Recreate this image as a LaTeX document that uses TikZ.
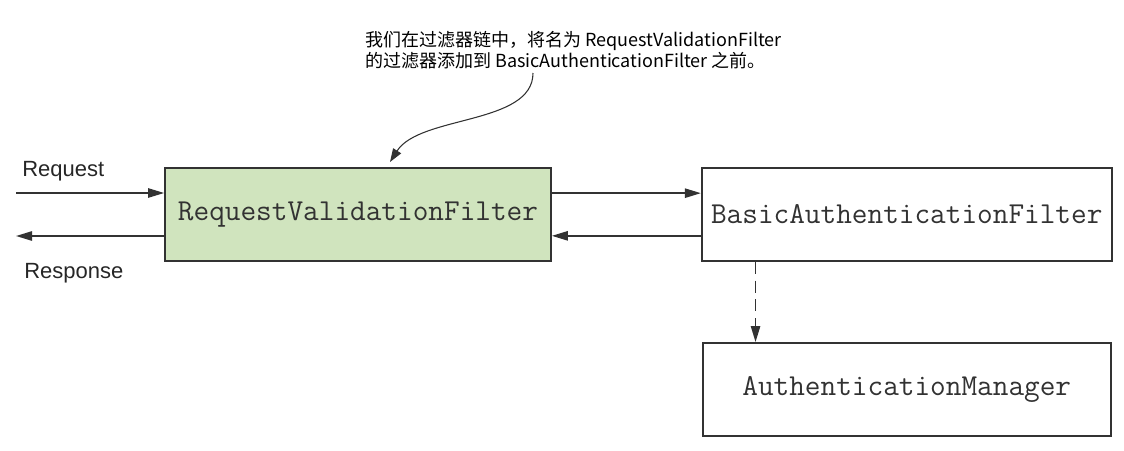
\documentclass[tikz,border=0pt]{standalone}
\usepackage{fontspec}
\setmainfont{Liberation Sans}
\setsansfont{Liberation Sans}
\newfontfamily\cjk{Noto Sans CJK SC}
\usepackage{tikz}
\usetikzlibrary{arrows.meta,positioning}
\definecolor{filtergreen}{RGB}{208,228,190}
\definecolor{linegray}{RGB}{50,50,50}

\begin{document}
\begin{tikzpicture}[
    x=0.75pt, y=-0.75pt,
    node distance=60pt and 111.75pt,
    block/.style={rectangle, draw=linegray, line width=1.3pt,
                minimum height=70pt, align=center, text=linegray,
                font=\ttfamily\fontsize{22.8}{24}\selectfont},
    tag/.style={inner sep=0pt, text=black!85,
                font=\sffamily\fontsize{16.5}{19}\selectfont},
    note/.style={inner sep=0pt, align=left,
                font=\cjk\fontsize{13.5}{16}\selectfont},
    flow/.style={draw=linegray, line width=1.2pt, -{Triangle[length=12pt,width=7pt]}},
    >=Latex
]
\useasboundingbox (0,0) rectangle (1124,450);

\node[block, fill=filtergreen, minimum width=289.5pt] (rvf) at (358,214.5) {RequestValidationFilter};
\node[block, right=of rvf, minimum width=307.5pt] (basic) {BasicAuthenticationFilter};
\node[block, below=of basic, minimum width=306pt] (manager) {AuthenticationManager};

% Request / Response
\coordinate (reqin) at (16,193);
\coordinate (respout) at (16,236);
\draw[flow] (reqin) -- (reqin -| rvf.west);
\draw[flow] (respout -| rvf.west) -- (respout);
\node[tag, anchor=base west] (reqlabel) at (22,176.5) {Request};
\node[tag, anchor=base west] (resplabel) at (24,278.5) {Response};

\draw[flow] ([yshift=16pt]rvf.east) -- ([yshift=16pt]basic.west);
\draw[flow] ([yshift=-16pt]basic.west) -- ([yshift=-16pt]rvf.east);
\draw[flow, dash pattern=on 9pt off 5pt]
    ([xshift=41pt]basic.south west) -- ([xshift=41pt]basic.south west |- manager.north);

% Annotation
\node[note, anchor=north west] (note) at (365,31)
    {我们在过滤器链中，将名为 RequestValidationFilter\\的过滤器添加到 BasicAuthenticationFilter 之前。};
\coordinate (notefoot) at (533,73);
\coordinate (notetip) at (390,162);
\draw[draw=linegray, line width=0.8pt, -{Triangle[length=10pt,width=7pt]}]
    (notefoot) .. controls (533,125) and (420,115) .. (notetip);
\end{tikzpicture}
\end{document}
